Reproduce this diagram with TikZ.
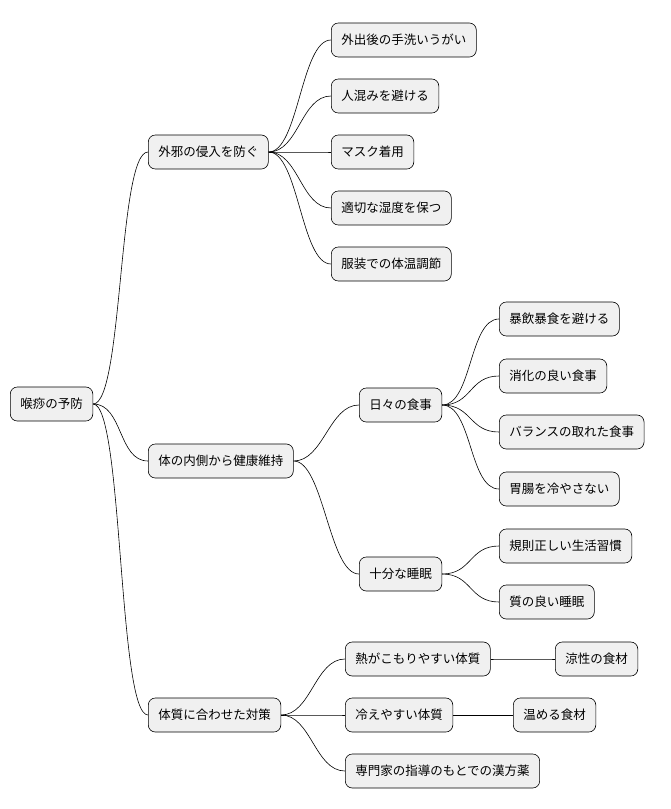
\documentclass[tikz,border=0pt]{standalone}
\usepackage{fontspec}
\setmainfont{Noto Sans CJK JP}
\begin{document}
\begin{tikzpicture}[x=1pt,y=-1pt,
  mm/.style={draw=black,line width=0.6pt,fill=black!6,rounded corners=7pt,minimum height=34pt,inner xsep=10pt,anchor=west,font=\fontsize{12.5}{14}\selectfont},
  ln/.style={line width=0.6pt}]
\useasboundingbox (0,0) rectangle (670,809);
\node[mm] (r) at (10,404) {喉痧の予防};
\node[mm] (a) at (148,152) {外邪の侵入を防ぐ};
\node[mm] (b) at (148,461) {体の内側から健康維持};
\node[mm] (c) at (148,715) {体質に合わせた対策};
\node[mm] (a1) at (331,40) {外出後の手洗いうがい};
\node[mm] (a2) at (331,96) {人混みを避ける};
\node[mm] (a3) at (331,152) {マスク着用};
\node[mm] (a4) at (331,208) {適切な湿度を保つ};
\node[mm] (a5) at (331,264) {服装での体温調節};
\node[mm] (b1) at (359,405) {日々の食事};
\node[mm] (b2) at (359,574) {十分な睡眠};
\node[mm] (b11) at (499,319) {暴飲暴食を避ける};
\node[mm] (b12) at (499,376) {消化の良い食事};
\node[mm] (b13) at (499,432) {バランスの取れた食事};
\node[mm] (b14) at (499,489) {胃腸を冷やさない};
\node[mm] (b21) at (499,546) {規則正しい生活習慣};
\node[mm] (b22) at (499,602) {質の良い睡眠};
\node[mm] (c1) at (345,659) {熱がこもりやすい体質};
\node[mm] (c2) at (345,715) {冷えやすい体質};
\node[mm] (c3) at (345,771) {専門家の指導のもとでの漢方薬};
\node[mm] (c11) at (555,659) {涼性の食材};
\node[mm] (c21) at (513,715) {温める食材};
\foreach \p/\c in {r/a,r/b,r/c,a/a1,a/a2,a/a3,a/a4,a/a5,b/b1,b/b2,b1/b11,b1/b12,b1/b13,b1/b14,b2/b21,b2/b22,c/c1,c/c2,c/c3,c1/c11,c2/c21}
  \draw[ln] (\p.east) .. controls +(30,0) and +(-30,0) .. (\c.west);
\end{tikzpicture}
\end{document}
